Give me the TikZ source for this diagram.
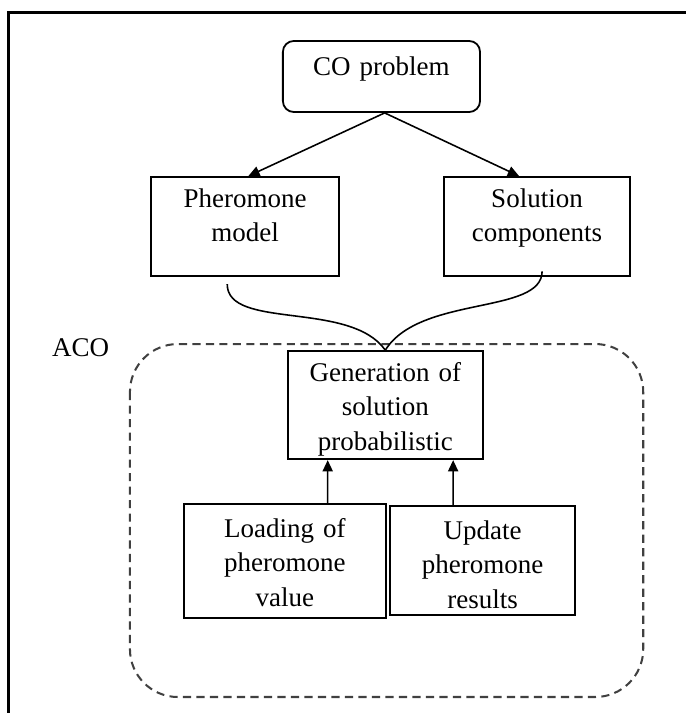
\documentclass[tikz,border=0pt]{standalone}
\usepackage{fontspec}
\setmainfont{Liberation Serif}
\usetikzlibrary{arrows.meta}
\tikzset{
  acobox/.style={rectangle, draw, line width=0.8pt, fill=white, inner sep=0pt,
                 align=center, text height=8.5pt,
                 font=\fontsize{12}{15.3}\selectfont},
  acostart/.style={acobox, rounded corners=0.17cm},
  acolink/.style={draw, line width=0.7pt},
  acoarrow/.style={acolink, -{Triangle[length=5pt, width=4.5pt]}},
  acoregion/.style={draw=black!75, line width=0.9pt,
                    dash pattern=on 3.6pt off 2.4pt, rounded corners=0.75cm},
  aconote/.style={font=\fontsize{12}{15.3}\selectfont}
}

\begin{document}
\begin{tikzpicture}[
    scale=1.0,
    pageframe/.style={line width=1.3pt}
]
  \useasboundingbox (0,0) rectangle (10.72,-11.14);
  \draw[pageframe] (0.14,-11.14) -- (0.14,-0.195) -- (10.72,-0.195);
  \draw[acoregion] (2.03,-5.375) rectangle (10.05,-10.89);
  \node[aconote] (aco) at (1.26,-5.44) {ACO};
  \node[acostart, minimum width=3.08cm, minimum height=1.11cm,
        text width=2.9cm, text depth=9pt] (co) at (5.96,-1.195) {CO problem};
  \node[acobox, minimum width=2.94cm, minimum height=1.55cm,
        text width=2.7cm, text depth=25.9pt] (pher) at (3.83,-3.54)
    {Pheromone\\model};
  \node[acobox, minimum width=2.91cm, minimum height=1.55cm,
        text width=2.7cm, text depth=25.9pt] (sol) at (8.39,-3.54)
    {Solution\\components};
  \node[acobox, minimum width=3.05cm, minimum height=1.69cm,
        text width=2.85cm, text depth=29.8pt] (gen) at (6.02,-6.33)
    {Generation of\\solution\\probabilistic};
  \node[acobox, minimum width=3.16cm, minimum height=1.78cm,
        text width=2.95cm, text depth=29.8pt] (load) at (4.45,-8.77)
    {Loading of\\pheromone\\value};
  \node[acobox, minimum width=2.89cm, minimum height=1.70cm,
        text width=2.7cm, text depth=27.6pt] (upd) at (7.54,-8.76)
    {Update\\pheromone\\results};
  \draw[acoarrow] ([xshift=0.05cm]co.south) -- ([xshift=0.05cm]pher.north);
  \draw[acoarrow] ([xshift=0.05cm]co.south) -- ([xshift=-0.28cm]sol.north);
  \draw[acolink] ([xshift=-0.28cm, yshift=-0.11cm]pher.south)
    .. controls (3.55,-5.16) and (5.47,-4.69) .. (gen.north);
  \draw[acolink] ([xshift=0.08cm, yshift=0.09cm]sol.south)
    .. controls (8.47,-4.92) and (6.56,-4.61) .. (gen.north);
  \draw[acoarrow] ([xshift=0.67cm]load.north) -- ([xshift=-0.9cm]gen.south);
  \draw[acoarrow] ([xshift=-0.46cm]upd.north) -- ([xshift=1.06cm]gen.south);
\end{tikzpicture}
\end{document}
